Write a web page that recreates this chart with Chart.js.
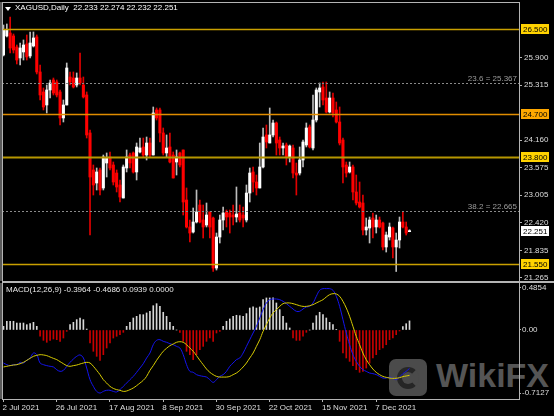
<!DOCTYPE html>
<html>
<head>
<meta charset="utf-8">
<script src="https://cdn.jsdelivr.net/npm/chart.js@4.4.1/dist/chart.umd.min.js"></script>
<style>
  html, body { margin: 0; padding: 0; background: #000; width: 554px; height: 416px; overflow: hidden; }
  #wrap { position: relative; width: 554px; height: 416px; }
  canvas { position: absolute; left: 0; z-index: 1; }
  #priceCanvas { top: 0; }
  #macdCanvas { top: 282px; }
  .lbl { position: absolute; z-index: 2; font: 8px "Liberation Sans", Arial, sans-serif; line-height: 10px; white-space: pre; }
  #title { left: 15px; top: 3px; color: #fff; }
  #tri { position: absolute; z-index: 2; left: 5px; top: 7px; width: 0; height: 0;
         border-left: 3px solid transparent; border-right: 3px solid transparent; border-top: 4px solid #fff; }
  #macdTitle { left: 6px; top: 285px; color: #e6e6e6; }
  #wmLogo { position: absolute; z-index: 0; left: 389px; top: 359px; width: 38px; height: 37px;
            border-radius: 7px; background: #4b4b4b; }
  #wmLogo div { position: absolute; left: 8px; top: 8px; width: 12px; height: 12px; border-radius: 50%;
                border: 5px solid #262626; border-right-color: #4b4b4b; }
  #wmText { position: absolute; z-index: 0; left: 436px; top: 356px; font: bold 34px "Liberation Sans", Arial, sans-serif;
            color: #555; letter-spacing: 0px; }
</style>
</head>
<body>
<div id="wrap">
  <div id="wmLogo"><div></div></div>
  <div id="wmText">WikiFX</div>
  <canvas id="priceCanvas" width="554" height="283"></canvas>
  <canvas id="macdCanvas" width="554" height="134"></canvas>
  <div id="tri"></div>
  <div class="lbl" id="title">XAGUSD,Daily  22.233 22.274 22.232 22.251</div>
  <div class="lbl" id="macdTitle">MACD(12,26,9) -0.3964 -0.4686 0.0939 0.0000</div>
</div>
<script>
// daily XAGUSD candles, 2 Jul 2021 .. 21 Dec 2021
const openP = [25.953, 26.353, 26.416, 26.353, 26.121, 25.890, 26.016, 26.184, 25.932, 26.142,
  26.332, 25.595, 25.174, 24.900, 25.216, 25.426, 25.384, 25.174, 24.627, 24.900,
  25.489, 25.468, 25.321, 25.468, 25.321, 25.111, 24.311, 23.532, 23.258, 23.532,
  23.153, 23.679, 23.805, 23.637, 23.468, 23.216, 22.942, 23.574, 23.847, 23.890,
  23.490, 23.911, 24.016, 23.847, 24.100, 23.847, 24.795, 24.795, 24.311, 23.890,
  24.016, 23.847, 23.700, 23.890, 23.953, 22.900, 22.332, 22.226, 22.437, 22.795,
  22.479, 22.374, 22.648, 22.521, 21.468, 22.121, 22.479, 22.648, 22.627, 22.584,
  22.542, 22.627, 22.584, 22.479, 23.047, 23.490, 23.279, 23.153, 23.595, 24.269,
  24.100, 24.269, 24.521, 24.163, 23.995, 24.058, 23.805, 23.995, 23.468, 23.468,
  23.742, 24.058, 24.437, 23.995, 24.584, 25.174, 25.279, 25.047, 24.753, 25.047,
  24.795, 24.542, 24.163, 23.637, 23.490, 23.595, 23.069, 22.858, 22.837, 22.269,
  22.311, 22.521, 22.332, 22.479, 22.416, 21.911, 22.121, 22.311, 21.911, 22.058,
  22.437, 22.332, 22.233];
const highP = [26.584, 26.605, 26.753, 26.395, 26.163, 26.205, 26.269, 26.374, 26.437, 26.437,
  26.374, 25.742, 25.258, 25.321, 25.426, 25.468, 25.426, 25.216, 25.005, 25.784,
  25.595, 25.595, 25.574, 25.995, 25.489, 25.174, 24.374, 23.637, 23.574, 23.574,
  23.847, 23.890, 23.911, 23.700, 23.532, 23.321, 23.637, 23.953, 23.890, 23.911,
  24.100, 24.205, 24.205, 24.226, 24.205, 24.858, 24.837, 24.837, 24.416, 24.269,
  24.311, 23.911, 23.953, 23.911, 23.953, 23.153, 22.479, 22.732, 23.111, 22.900,
  22.795, 22.837, 22.648, 22.542, 22.205, 22.584, 22.753, 22.690, 22.690, 22.795,
  23.174, 22.795, 22.753, 23.216, 23.574, 23.595, 23.426, 24.100, 24.416, 24.479,
  24.837, 24.584, 24.542, 24.226, 24.100, 24.100, 24.058, 24.058, 23.679, 24.016,
  24.163, 24.521, 24.479, 25.111, 25.258, 25.363, 25.384, 25.384, 25.174, 25.153,
  24.963, 24.858, 24.205, 23.700, 23.700, 23.637, 23.426, 23.279, 23.005, 22.521,
  22.542, 22.627, 22.584, 22.542, 22.437, 22.226, 22.416, 22.332, 22.205, 22.542,
  22.648, 22.437, 22.274];
const lowP = [25.932, 26.332, 25.995, 25.995, 25.763, 25.742, 25.847, 25.847, 25.890, 26.121,
  25.553, 25.005, 24.795, 24.732, 25.047, 25.111, 25.069, 24.479, 24.542, 24.900,
  25.321, 25.258, 25.279, 25.321, 25.047, 24.205, 22.163, 23.005, 23.111, 23.005,
  23.111, 23.384, 23.532, 23.216, 23.069, 22.858, 22.942, 23.490, 23.574, 23.468,
  23.321, 23.890, 23.805, 23.742, 23.805, 23.847, 24.584, 24.121, 23.847, 23.805,
  23.679, 23.363, 23.426, 23.595, 22.584, 22.311, 22.016, 22.205, 22.416, 22.416,
  22.100, 22.332, 22.100, 21.395, 21.426, 21.995, 22.269, 22.332, 22.205, 22.374,
  22.437, 22.437, 22.332, 22.437, 22.858, 23.069, 23.005, 23.153, 23.574, 23.995,
  24.100, 24.226, 23.847, 23.847, 23.847, 23.637, 23.700, 23.363, 23.005, 23.426,
  23.595, 24.016, 23.995, 23.953, 24.542, 24.858, 24.900, 24.732, 24.732, 24.648,
  24.521, 24.058, 23.258, 23.384, 23.468, 22.900, 22.795, 22.732, 22.163, 22.163,
  21.995, 22.100, 22.205, 22.311, 21.848, 21.805, 22.058, 21.679, 21.395, 21.890,
  22.311, 22.163, 22.232];
const closeP = [26.479, 26.479, 26.100, 26.058, 25.847, 26.100, 26.163, 25.911, 26.205, 26.311,
  25.595, 25.111, 24.858, 25.216, 25.363, 25.153, 25.111, 24.627, 24.900, 25.679,
  25.384, 25.279, 25.468, 25.363, 25.069, 24.269, 23.384, 23.216, 23.490, 23.111,
  23.805, 23.784, 23.574, 23.279, 23.174, 22.963, 23.595, 23.805, 23.679, 23.490,
  24.016, 23.995, 23.847, 24.100, 23.847, 24.732, 24.627, 24.311, 23.890, 23.995,
  23.700, 23.363, 23.805, 23.637, 22.858, 22.332, 22.205, 22.437, 22.648, 22.437,
  22.332, 22.584, 22.332, 21.468, 22.121, 22.479, 22.627, 22.542, 22.542, 22.542,
  22.605, 22.479, 22.521, 23.047, 23.468, 23.279, 23.153, 23.595, 24.226, 24.121,
  24.269, 24.521, 24.100, 23.995, 24.037, 23.805, 24.037, 23.468, 23.426, 23.742,
  24.121, 24.416, 24.016, 24.584, 25.216, 25.258, 25.005, 24.753, 25.047, 24.732,
  24.542, 24.100, 23.595, 23.468, 23.595, 23.069, 22.837, 22.753, 22.269, 22.332,
  22.479, 22.332, 22.479, 22.332, 21.911, 22.163, 22.332, 21.911, 22.058, 22.437,
  22.332, 22.205, 22.251];

// MACD(12,26,9) panel
const macdLine = [-0.341, -0.358, -0.368, -0.358, -0.358, -0.334, -0.341, -0.313, -0.289, -0.238,
  -0.255, -0.341, -0.358, -0.368, -0.375, -0.382, -0.410, -0.427, -0.417, -0.375,
  -0.334, -0.300, -0.272, -0.258, -0.289, -0.393, -0.513, -0.582, -0.634, -0.651,
  -0.634, -0.623, -0.623, -0.634, -0.640, -0.616, -0.582, -0.548, -0.513, -0.479,
  -0.437, -0.393, -0.348, -0.289, -0.238, -0.152, -0.107, -0.100, -0.117, -0.127,
  -0.141, -0.152, -0.169, -0.186, -0.255, -0.358, -0.427, -0.437, -0.461, -0.472,
  -0.479, -0.486, -0.513, -0.541, -0.513, -0.479, -0.461, -0.427, -0.375, -0.341,
  -0.306, -0.289, -0.238, -0.169, -0.100, -0.031, 0.038, 0.124, 0.210, 0.279,
  0.313, 0.320, 0.320, 0.313, 0.296, 0.272, 0.244, 0.217, 0.193, 0.193,
  0.217, 0.238, 0.244, 0.279, 0.348, 0.410, 0.427, 0.427, 0.427, 0.410,
  0.348, 0.244, 0.107, -0.031, -0.152, -0.255, -0.324, -0.375, -0.410, -0.427,
  -0.444, -0.451, -0.461, -0.479, -0.496, -0.496, -0.486, -0.496, -0.513, -0.486,
  -0.451, -0.427, -0.3964];
const signalLine = [-0.382, -0.375, -0.368, -0.362, -0.358, -0.348, -0.334, -0.313, -0.293, -0.272,
  -0.262, -0.255, -0.258, -0.265, -0.279, -0.293, -0.306, -0.327, -0.348, -0.368,
  -0.375, -0.368, -0.362, -0.351, -0.341, -0.334, -0.341, -0.375, -0.417, -0.461,
  -0.513, -0.548, -0.582, -0.603, -0.616, -0.623, -0.634, -0.630, -0.616, -0.599,
  -0.575, -0.548, -0.520, -0.479, -0.417, -0.368, -0.313, -0.265, -0.220, -0.189,
  -0.162, -0.145, -0.127, -0.121, -0.127, -0.152, -0.186, -0.220, -0.265, -0.313,
  -0.358, -0.403, -0.437, -0.461, -0.479, -0.486, -0.486, -0.486, -0.479, -0.461,
  -0.444, -0.417, -0.382, -0.341, -0.289, -0.238, -0.169, -0.100, -0.014, 0.055,
  0.124, 0.176, 0.210, 0.244, 0.272, 0.279, 0.279, 0.272, 0.262, 0.251,
  0.244, 0.244, 0.251, 0.262, 0.279, 0.296, 0.313, 0.341, 0.365, 0.375,
  0.372, 0.348, 0.296, 0.227, 0.141, 0.038, -0.065, -0.152, -0.238, -0.306,
  -0.358, -0.403, -0.437, -0.461, -0.479, -0.489, -0.496, -0.499, -0.499, -0.492,
  -0.482, -0.475, -0.4686];
const histo = [0.038, 0.090, 0.090, 0.090, 0.072, 0.072, 0.072, 0.055, 0.065, 0.079,
  0.038, -0.065, -0.107, -0.127, -0.107, -0.093, -0.100, -0.117, -0.083, -0.014,
  0.055, 0.079, 0.107, 0.124, 0.107, 0.010, -0.134, -0.220, -0.272, -0.313,
  -0.255, -0.186, -0.134, -0.083, -0.065, -0.048, -0.024, 0.038, 0.079, 0.124,
  0.141, 0.158, 0.158, 0.176, 0.193, 0.251, 0.272, 0.244, 0.183, 0.141,
  0.079, 0.038, 0.000, -0.024, -0.117, -0.220, -0.255, -0.306, -0.255, -0.203,
  -0.169, -0.117, -0.083, -0.117, -0.031, -0.014, 0.038, 0.090, 0.114, 0.141,
  0.152, 0.148, 0.141, 0.169, 0.227, 0.238, 0.227, 0.238, 0.313, 0.331,
  0.331, 0.331, 0.279, 0.210, 0.141, 0.072, 0.021, -0.083, -0.107, -0.107,
  -0.065, -0.024, 0.000, 0.072, 0.148, 0.183, 0.158, 0.124, 0.079, 0.055,
  0.003, -0.117, -0.238, -0.289, -0.324, -0.368, -0.410, -0.437, -0.427, -0.393,
  -0.341, -0.289, -0.255, -0.203, -0.186, -0.152, -0.100, -0.083, -0.048, -0.010,
  0.035, 0.065, 0.0939];

// axes
const priceTicks = [25.900, 25.315, 24.160, 23.575, 23.005, 22.420, 21.835, 21.265];
const priceRange = [21.195, 27.068];
const macdRange = [-0.7127, 0.4854];
const macdTickLabels = ['0.4854', '0.00', '-0.7127'];
const dateIdx = [0, 16, 32, 48, 64, 80, 96, 112];
const dateLabels = ['2 Jul 2021', '26 Jul 2021', '17 Aug 2021', '8 Sep 2021', '30 Sep 2021', '22 Oct 2021', '15 Nov 2021', '7 Dec 2021'];

// horizontal levels
const levels = [26.500, 24.700, 23.800, 21.550];
const levelLineColor = ['#c9a000', '#e08c00', '#b59600', '#c9a000'];
const levelBoxColor = ['#ffd200', '#ffa800', '#ffd200', '#ffd200'];
const fiboLevels = [25.367, 22.665];
const fiboLabels = ['23.6 = 25.367', '38.2 = 22.665'];
const lastPrice = 22.251;

const xMin = -0.45, xMax = 154.9;
const frameColor = '#b4b4b4';
const labelColor = '#dedede';

Chart.defaults.font.family = '"Liberation Sans", Arial, sans-serif';
Chart.defaults.font.size = 8;

const idx = closeP.map((_, i) => i);
const bull = idx.map(i => closeP[i] >= openP[i]);

const priceOverlay = {
    id: 'priceOverlay',
    afterDatasetsDraw(chart) {
        const {ctx, chartArea: a, scales: {y}} = chart;
        ctx.save();
        ctx.font = '8px "Liberation Sans", Arial, sans-serif';
        // fibo lines, dotted
        ctx.setLineDash([2, 2]);
        ctx.lineWidth = 1;
        fiboLevels.forEach((v, k) => {
            const py = Math.round(y.getPixelForValue(v)) + 0.5;
            ctx.strokeStyle = '#8a8a8a';
            ctx.beginPath(); ctx.moveTo(a.left, py); ctx.lineTo(a.right, py); ctx.stroke();
            ctx.fillStyle = '#9c9c9c';
            ctx.textAlign = 'right'; ctx.textBaseline = 'bottom';
            ctx.fillText(fiboLabels[k], a.right - 2, py - 1);
        });
        ctx.setLineDash([]);
        levels.forEach((v, k) => {
            const py = Math.round(y.getPixelForValue(v)) + 0.5;
            ctx.strokeStyle = levelLineColor[k];
            ctx.lineWidth = k === 2 ? 2 : 1.5;
            ctx.beginPath(); ctx.moveTo(a.left, py); ctx.lineTo(a.right, py); ctx.stroke();
        });
        ctx.restore();
    },
    afterDraw(chart) {
        const {ctx, chartArea: a, scales: {y}} = chart;
        ctx.save();
        ctx.font = '8px "Liberation Sans", Arial, sans-serif';
        ctx.textBaseline = 'middle'; ctx.textAlign = 'left';
        const box = (v, fill, txt) => {
            const py = Math.round(y.getPixelForValue(v));
            ctx.fillStyle = fill;
            ctx.fillRect(a.right + 2, py - 5, 28, 10);
            ctx.fillStyle = '#000';
            ctx.fillText(txt, a.right + 4, py + 0.5);
        };
        levels.forEach((v, k) => box(v, levelBoxColor[k], v.toFixed(3)));
        box(lastPrice, '#ffffff', lastPrice.toFixed(3));
        // panel frame
        ctx.strokeStyle = frameColor; ctx.lineWidth = 1;
        ctx.strokeRect(a.left + 0.5, a.top + 0.5, a.right - a.left, a.bottom - a.top);
        ctx.beginPath(); ctx.moveTo(a.left - 1, a.top); ctx.lineTo(a.left - 1, a.bottom); ctx.stroke();
        ctx.beginPath(); ctx.moveTo(a.right, a.bottom + 0.5); ctx.lineTo(chart.width, a.bottom + 0.5); ctx.stroke();
        ctx.restore();
    }
};

const macdFrame = {
    id: 'macdFrame',
    afterDraw(chart) {
        const {ctx, chartArea: a} = chart;
        ctx.save();
        ctx.strokeStyle = frameColor; ctx.lineWidth = 1;
        ctx.strokeRect(a.left + 0.5, a.top - 0.5, a.right - a.left, a.bottom - a.top + 1);
        ctx.beginPath(); ctx.moveTo(a.left - 1, a.top); ctx.lineTo(a.left - 1, a.bottom); ctx.stroke();
        ctx.beginPath(); ctx.moveTo(a.right, a.top - 0.5); ctx.lineTo(chart.width, a.top - 0.5); ctx.stroke();
        ctx.restore();
    }
};

const priceChart = new Chart(document.getElementById('priceCanvas'), {
    type: 'bar',
    data: {
        datasets: [
            {
                label: 'wick',
                data: idx.map(i => ({x: i, y: [lowP[i], highP[i]]})),
                backgroundColor: idx.map(i => bull[i] ? '#bcbcbc' : '#e00000'),
                barThickness: 1,
                grouped: false,
                order: 2
            },
            {
                label: 'body',
                data: idx.map(i => ({x: i, y: [Math.min(openP[i], closeP[i]), Math.max(openP[i], closeP[i])]})),
                backgroundColor: idx.map(i => bull[i] ? '#ffffff' : '#ff0000'),
                barThickness: 2.4,
                minBarLength: 1,
                grouped: false,
                order: 1
            }
        ]
    },
    options: {
        responsive: false,
        animation: false,
        events: [],
        layout: {padding: {top: 2, left: 2, right: 0, bottom: 2}},
        plugins: {legend: {display: false}, tooltip: {enabled: false}},
        scales: {
            x: {type: 'linear', min: xMin, max: xMax, offset: false, grid: {offset: false}, display: false},
            y: {
                position: 'right',
                min: priceRange[0],
                max: priceRange[1],
                afterBuildTicks: scale => { scale.ticks = priceTicks.map(v => ({value: v})); },
                afterFit: scale => { scale.width = 35; scale.paddingTop = 0; scale.paddingBottom = 0; },
                ticks: {
                    color: labelColor,
                    padding: 2,
                    autoSkip: false,
                    callback: v => Number(v).toFixed(3)
                },
                grid: {drawOnChartArea: false, tickLength: 3, color: frameColor},
                border: {display: true, color: frameColor}
            }
        }
    },
    plugins: [priceOverlay]
});

const macdChart = new Chart(document.getElementById('macdCanvas'), {
    type: 'bar',
    data: {
        datasets: [
            {
                type: 'line',
                label: 'signal',
                data: signalLine.map((v, i) => ({x: i, y: v})),
                borderColor: '#d8cc00',
                borderWidth: 1,
                pointRadius: 0,
                tension: 0.4,
                order: 0
            },
            {
                type: 'line',
                label: 'macd',
                data: macdLine.map((v, i) => ({x: i, y: v})),
                borderColor: '#1414f0',
                borderWidth: 1,
                pointRadius: 0,
                tension: 0.4,
                order: 1
            },
            {
                type: 'bar',
                label: 'hist',
                data: histo.map((v, i) => ({x: i, y: v})),
                backgroundColor: histo.map(v => v >= 0 ? '#d6d6d6' : '#c80000'),
                barThickness: 1,
                grouped: false,
                order: 2
            }
        ]
    },
    options: {
        responsive: false,
        animation: false,
        events: [],
        layout: {padding: {top: 1, left: 2, right: 0, bottom: 0}},
        plugins: {legend: {display: false}, tooltip: {enabled: false}},
        scales: {
            x: {
                type: 'linear',
                min: xMin,
                max: xMax,
                offset: false,
                afterBuildTicks: scale => { scale.ticks = dateIdx.map(v => ({value: v})); },
                afterFit: scale => { scale.height = 17; scale.paddingLeft = 0; scale.paddingRight = 0; },
                ticks: {
                    color: labelColor,
                    align: 'start',
                    maxRotation: 0,
                    autoSkip: false,
                    padding: 1,
                    labelOffset: -1,
                    callback: (v, i) => dateLabels[i]
                },
                grid: {drawOnChartArea: false, offset: false, tickLength: 3, color: frameColor},
                border: {display: false}
            },
            y: {
                position: 'right',
                min: macdRange[0],
                max: macdRange[1],
                afterBuildTicks: scale => {
                    // MT4 keeps the top and bottom labels inside the panel
                    const ppu = (scale.height || 116) / (scale.max - scale.min);
                    scale.ticks = [
                        {value: scale.max - 5 / ppu},
                        {value: 0},
                        {value: scale.min + 6 / ppu}
                    ];
                },
                afterFit: scale => { scale.width = 35; scale.paddingTop = 0; scale.paddingBottom = 0; },
                ticks: {
                    color: labelColor,
                    padding: 1,
                    autoSkip: false,
                    callback: (v, i) => macdTickLabels[i]
                },
                grid: {drawOnChartArea: false, tickLength: 2, color: frameColor},
                border: {display: true, color: frameColor}
            }
        }
    },
    plugins: [macdFrame]
});
</script>
</body>
</html>
